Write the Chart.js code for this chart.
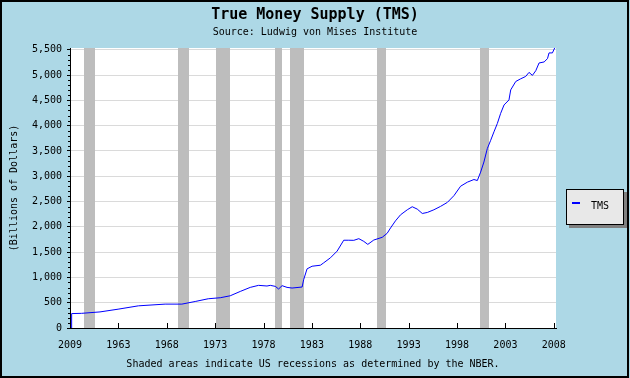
<!DOCTYPE html>
<html>
<head>
<meta charset="utf-8">
<script src="https://cdn.jsdelivr.net/npm/chart.js@4"></script>
<style>
html,body{margin:0;padding:0;background:#add8e6;}
canvas{display:block;}
</style>
</head>
<body>
<canvas id="c" width="630" height="378"></canvas>
<script>
// ---- data ----
const tmsYears = [1958.15, 1958.17, 1959.2, 1961.1, 1962.97, 1965.07, 1967.83, 1969.56, 1970.94, 1972.29, 1973.53,
  1974.56, 1975.6, 1976.63, 1977.49, 1978.36, 1978.7, 1979.22, 1979.56, 1979.92, 1980.43, 1980.95, 1981.99,
  1982.15, 1982.5, 1983.02, 1983.88, 1984.22, 1984.92, 1985.61, 1986.29, 1986.81, 1987.33, 1987.85, 1988.36,
  1988.78, 1989.4, 1990.27, 1990.78, 1991.13, 1991.64, 1992.16, 1992.86, 1993.37, 1993.89, 1994.41, 1994.93,
  1995.61, 1996.3, 1997.0, 1997.68, 1998.37, 1999.07, 1999.75, 2000.1, 2000.44, 2000.78, 2001.13, 2001.48,
  2001.82, 2002.17, 2002.51, 2002.86, 2003.37, 2003.55, 2004.07, 2004.58, 2005.1, 2005.44, 2005.79, 2006.14,
  2006.48, 2007.0, 2007.35, 2007.51, 2007.86, 2008.1];
const tmsValues = [0, 285, 290, 318, 372, 438, 472, 472, 524, 578, 598,
  637, 723, 803, 843, 830, 843, 823, 771, 837, 803, 790, 810,
  956, 1169, 1221, 1241, 1288, 1388, 1520, 1735, 1735, 1733, 1766, 1713,
  1653, 1739, 1793, 1872, 1978, 2118, 2237, 2337, 2397, 2350, 2264, 2284,
  2337, 2404, 2483, 2616, 2803, 2883, 2935, 2915, 3082, 3281, 3546, 3711,
  3878, 4044, 4243, 4409, 4508, 4707, 4873, 4926, 4973, 5053, 4994, 5086,
  5239, 5259, 5325, 5438, 5438, 5538];
const recessionStart = [1959.45, 1969.21, 1973.11, 1979.22, 1980.77, 1989.71, 2000.34];
const recessionEnd   = [1960.59, 1970.32, 1974.56, 1979.94, 1982.22, 1990.61, 2001.27];
const xTickValues = [1958, 1963, 1968, 1973, 1978, 1983, 1988, 1993, 1998, 2003, 2008];
const xTickLabels = ['2009', '1963', '1968', '1973', '1978', '1983', '1988', '1993', '1998', '2003', '2008'];
const yTickValues = [0, 500, 1000, 1500, 2000, 2500, 3000, 3500, 4000, 4500, 5000, 5500];
const yMinorStep = 100;
const seriesName = 'TMS';

const FONT = 'DejaVu Sans Mono';

const decorPlugin = {
  id: 'decor',
  beforeDraw(chart) {
    const {ctx, chartArea: a} = chart;
    ctx.save();
    ctx.fillStyle = '#add8e6';
    ctx.fillRect(0, 0, chart.width, chart.height);
    ctx.fillStyle = '#ffffff';
    ctx.fillRect(a.left, a.top, a.right - a.left, a.bottom - a.top);
    ctx.restore();
  },
  beforeDatasetsDraw(chart) {
    const {ctx, chartArea: a, scales: {x}} = chart;
    ctx.save();
    ctx.fillStyle = '#bdbdbd';
    for (let i = 0; i < recessionStart.length; i++) {
      const x1 = Math.round(x.getPixelForValue(recessionStart[i]));
      const x2 = Math.round(x.getPixelForValue(recessionEnd[i]));
      ctx.fillRect(x1, a.top, x2 - x1, a.bottom - a.top);
    }
    ctx.restore();
  },
  afterDatasetsDraw(chart) {
    const {ctx, chartArea: a, scales: {x, y}} = chart;
    ctx.save();
    ctx.strokeStyle = '#000';
    ctx.lineWidth = 1;
    ctx.beginPath();
    // x ticks pointing inward
    x.ticks.forEach(t => {
      const px = Math.round(x.getPixelForValue(t.value)) + 0.5;
      ctx.moveTo(px, a.bottom);
      ctx.lineTo(px, a.bottom - 5);
    });
    // y minor ticks
    for (let v = 0; v <= y.max; v += yMinorStep) {
      if (v % 500 === 0) continue;
      const py = Math.round(y.getPixelForValue(v)) + 0.5;
      ctx.moveTo(a.left - 2, py);
      ctx.lineTo(a.left, py);
    }
    ctx.stroke();
    ctx.restore();
  },
  afterDraw(chart) {
    const {ctx} = chart;
    ctx.save();
    // legend box
    const lx = 566, ly = 189, lw = 58, lh = 36;
    ctx.fillStyle = '#808080';
    ctx.fillRect(lx + 3, ly + 3, lw, lh);
    ctx.fillStyle = '#e8e8e8';
    ctx.fillRect(lx, ly, lw, lh);
    ctx.strokeStyle = '#000';
    ctx.lineWidth = 1;
    ctx.strokeRect(lx + 0.5, ly + 0.5, lw - 1, lh - 1);
    ctx.fillStyle = '#0000ff';
    ctx.fillRect(lx + 6, ly + 13, 8, 2);
    ctx.fillStyle = '#000';
    ctx.font = '10px "' + FONT + '"';
    ctx.textBaseline = 'middle';
    ctx.textAlign = 'left';
    ctx.fillText(seriesName, lx + 25, ly + 17);
    // outer border
    ctx.strokeStyle = '#000';
    ctx.lineWidth = 2;
    ctx.strokeRect(1, 1, chart.width - 3, chart.height - 2);
    ctx.restore();
  }
};

const points = tmsYears.map((yr, i) => ({x: yr, y: tmsValues[i]}));

new Chart(document.getElementById('c'), {
  type: 'line',
  data: {
    datasets: [{
      label: seriesName,
      data: points,
      borderColor: '#0000ff',
      borderWidth: 1,
      pointRadius: 0,
      tension: 0,
      fill: false
    }]
  },
  options: {
    responsive: false,
    animation: false,
    devicePixelRatio: 1,
    layout: {padding: {left: 0, right: 0, top: 0, bottom: 0}},
    plugins: {
      legend: {display: false},
      tooltip: {enabled: false},
      title: {
        display: true,
        text: 'True Money Supply (TMS)',
        color: '#000',
        font: {family: FONT, size: 15, weight: 'bold'},
        padding: {top: 6, bottom: 2}
      },
      subtitle: {
        display: true,
        text: 'Source: Ludwig von Mises Institute',
        color: '#000',
        font: {family: FONT, size: 10},
        padding: {top: 0, bottom: 10}
      }
    },
    scales: {
      x: {
        type: 'linear',
        min: 1958,
        max: 2008.23,
        afterBuildTicks: s => { s.ticks = xTickValues.map(v => ({value: v})); },
        afterFit: s => { s.height = 50; },
        ticks: {
          callback: (v, i) => xTickLabels[i],
          autoSkip: false,
          maxRotation: 0,
          color: '#000',
          font: {family: FONT, size: 10},
          padding: 3
        },
        grid: {display: false},
        border: {display: true, color: '#000', width: 1},
        title: {
          display: true,
          text: 'Shaded areas indicate US recessions as determined by the NBER.',
          color: '#000',
          font: {family: FONT, size: 10},
          padding: {top: 0, bottom: 8}
        }
      },
      y: {
        type: 'linear',
        min: 0,
        max: 5535,
        afterBuildTicks: s => { s.ticks = yTickValues.map(v => ({value: v})); },
        afterFit: s => { s.width = 70; },
        ticks: {
          callback: v => v.toLocaleString('en-US'),
          color: '#000',
          font: {family: FONT, size: 10},
          padding: 5
        },
        grid: {color: '#dadada', tickColor: '#000', tickLength: 3, lineWidth: 1},
        border: {display: true, color: '#000', width: 1},
        title: {
          display: true,
          text: '(Billions of Dollars)',
          color: '#000',
          font: {family: FONT, size: 10},
          padding: {top: 8, bottom: 0}
        }
      },
      spacer: {
        type: 'linear',
        position: 'right',
        display: true,
        min: 0,
        max: 1,
        afterFit: s => { s.width = 74; },
        ticks: {display: false},
        grid: {display: false, drawOnChartArea: false},
        border: {display: false}
      }
    }
  },
  plugins: [decorPlugin]
});
</script>
</body>
</html>
